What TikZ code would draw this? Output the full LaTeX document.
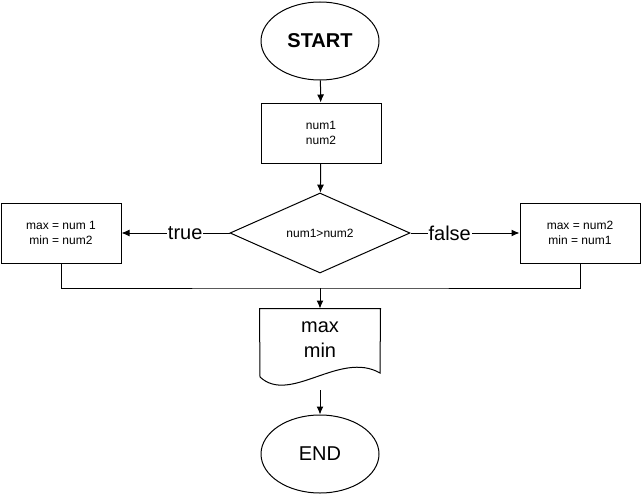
\documentclass[tikz,border=0pt]{standalone}
\usepackage{fontspec}
\setmainfont{Liberation Sans}
\usetikzlibrary{shapes.geometric,arrows.meta}
\begin{document}
\begin{tikzpicture}[x=1pt,y=-1pt,>={Latex[length=8pt,width=7pt]},line width=1pt,
  small/.style={font=\fontsize{12}{15}\selectfont,align=center},
  big/.style={font=\fontsize{20}{25}\selectfont,align=center},
  term/.style={draw,ellipse,minimum width=118pt,minimum height=78pt,inner sep=0pt,big},
  procbox/.style={draw,rectangle,minimum width=120pt,minimum height=60pt,inner sep=0pt,small},
  lbl/.style={fill=white,inner sep=1pt,big}]
\useasboundingbox (0,0) rectangle (642,495);
% terminals and boxes
\node[term,font=\fontsize{20}{24}\selectfont\bfseries] (start) at (320,41) {START};
\node[procbox] (input) at (321,133) {num1\\num2};
\node[draw,diamond,aspect=2.25,minimum width=180pt,minimum height=80pt,inner sep=0pt,small] (cmp) at (320,233) {num1>num2};
\node[procbox] (ltrue) at (61,233) {max = num 1\\min = num2};
\node[procbox] (rfalse) at (580,233) {max = num2\\min = num1};
% output document
\node[minimum width=120pt,minimum height=62pt,inner sep=0pt,big] (out) at (320,340) {max\\min};
\draw (out.north west) -- (out.north east) -- (380,373)
  .. controls (340,350) and (290,405) .. (260,377) -- cycle;
\node[term] (stop) at (320,454) {END};
% connectors
\coordinate (join) at (320,288);
\coordinate (outend) at (320,390);
\draw[->] (start) -- (input);
\draw[->] (input) -- (cmp);
\draw[->] (cmp.west) -- node[lbl,pos=0.41] {true} (ltrue.east);
\draw[->] (cmp.east) -- node[lbl,pos=0.36] {false} (rfalse.west);
\draw (ltrue.south) |- (join) -| (rfalse.south);
\draw[->] (join) -- (out.north);
\draw[->] (outend) -- (stop);
\end{tikzpicture}
\end{document}
